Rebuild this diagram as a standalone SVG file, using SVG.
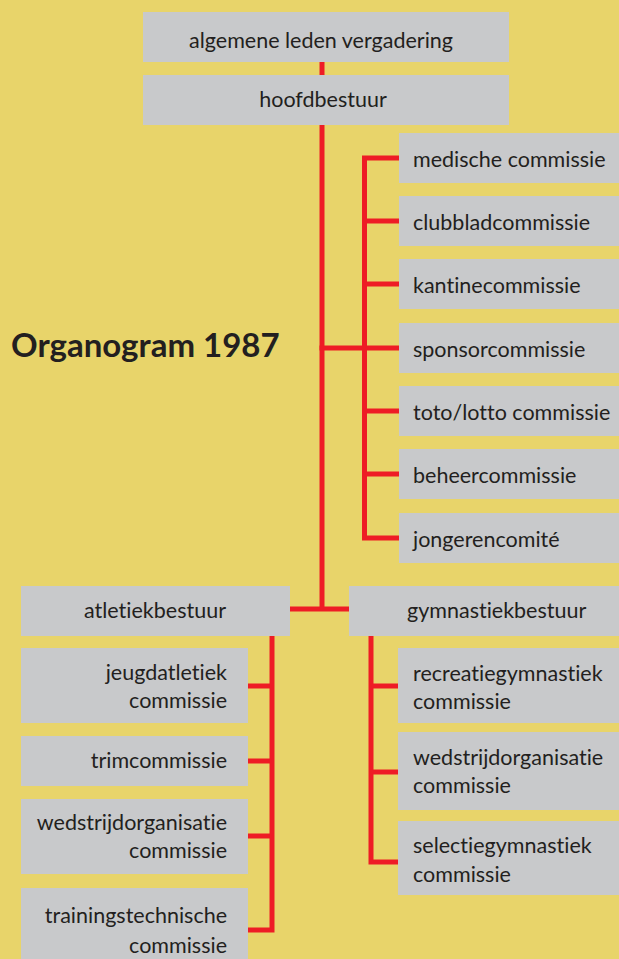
<svg xmlns="http://www.w3.org/2000/svg" width="619" height="959" viewBox="0 0 619 959">
<style>
.bg{fill:#E8D46A}
.box{fill:#C8C9CB}
.t{font-family:Lato,"Open Sans","DejaVu Sans",sans-serif;font-size:21.5px;fill:#231F20;font-variant-ligatures:none}
.c{text-anchor:middle}
.r{text-anchor:end}
.title{font-family:Lato,"Open Sans","DejaVu Sans",sans-serif;font-size:33px;font-weight:bold;fill:#231F20}
.ln{stroke:#EE1C25;stroke-width:5;fill:none;stroke-linecap:square}
</style>
<rect class="bg" x="0" y="0" width="619" height="959"/>
<text class="title" x="11" y="357">Organogram 1987</text>
<g id="connectors">
<path class="ln" d="M322,62 V75 M322,125 V609 M292,609 H349"/>
<path class="ln" d="M364.5,158 V538 M364.5,158 H399 M364.5,221 H399 M364.5,284 H399 M322,348 H399 M364.5,411 H399 M364.5,474 H399 M364.5,538 H399"/>
<path class="ln" d="M272,636 V930 M248,686 H272 M248,761 H272 M248,836 H272 M248,930 H272"/>
<path class="ln" d="M371,636 V862 M371,686 H398 M371,772 H398 M371,862 H398"/>
</g>
<g id="alv"><rect class="box" x="143" y="12" width="366" height="50"/><text class="t c" x="321" y="48">algemene leden vergadering</text></g>
<g id="hoofdbestuur"><rect class="box" x="143" y="75" width="366" height="50"/><text class="t c" x="323" y="107">hoofdbestuur</text></g>
<g id="medische"><rect class="box" x="399" y="133" width="220" height="50"/><text class="t" x="413" y="167">medische commissie</text></g>
<g id="clubblad"><rect class="box" x="399" y="196" width="220" height="50"/><text class="t" x="413" y="230">clubbladcommissie</text></g>
<g id="kantine"><rect class="box" x="399" y="259" width="220" height="50"/><text class="t" x="413" y="293">kantinecommissie</text></g>
<g id="sponsor"><rect class="box" x="399" y="323" width="220" height="50"/><text class="t" x="413" y="357">sponsorcommissie</text></g>
<g id="toto"><rect class="box" x="399" y="386" width="220" height="50"/><text class="t" x="413" y="420">toto/lotto commissie</text></g>
<g id="beheer"><rect class="box" x="399" y="449" width="220" height="50"/><text class="t" x="413" y="483">beheercommissie</text></g>
<g id="jongeren"><rect class="box" x="399" y="513" width="220" height="50"/><text class="t" x="413" y="547">jongerencomité</text></g>
<g id="atletiek"><rect class="box" x="21" y="586" width="269" height="50"/><text class="t c" x="155" y="618">atletiekbestuur</text></g>
<g id="gymnastiek"><rect class="box" x="349" y="586" width="270" height="50"/><text class="t" x="407" y="618">gymnastiekbestuur</text></g>
<g id="jeugd"><rect class="box" x="21" y="648" width="227" height="75"/><text class="t r" x="227" y="680">jeugdatletiek</text><text class="t r" x="227" y="708">commissie</text></g>
<g id="trim"><rect class="box" x="21" y="736" width="227" height="50"/><text class="t r" x="227" y="768">trimcommissie</text></g>
<g id="wedstrijd-a"><rect class="box" x="21" y="799" width="227" height="75"/><text class="t r" x="227" y="830">wedstrijdorganisatie</text><text class="t r" x="227" y="858">commissie</text></g>
<g id="training"><rect class="box" x="21" y="888" width="227" height="75"/><text class="t r" x="227" y="923">trainingstechnische</text><text class="t r" x="227" y="953">commissie</text></g>
<g id="recreatie"><rect class="box" x="398" y="648" width="221" height="75"/><text class="t" x="413" y="681">recreatiegymnastiek</text><text class="t" x="413" y="709">commissie</text></g>
<g id="wedstrijd-g"><rect class="box" x="398" y="732" width="221" height="78"/><text class="t" x="413" y="765">wedstrijdorganisatie</text><text class="t" x="413" y="793">commissie</text></g>
<g id="selectie"><rect class="box" x="398" y="821" width="221" height="74"/><text class="t" x="413" y="853">selectiegymnastiek</text><text class="t" x="413" y="882">commissie</text></g>
</svg>
